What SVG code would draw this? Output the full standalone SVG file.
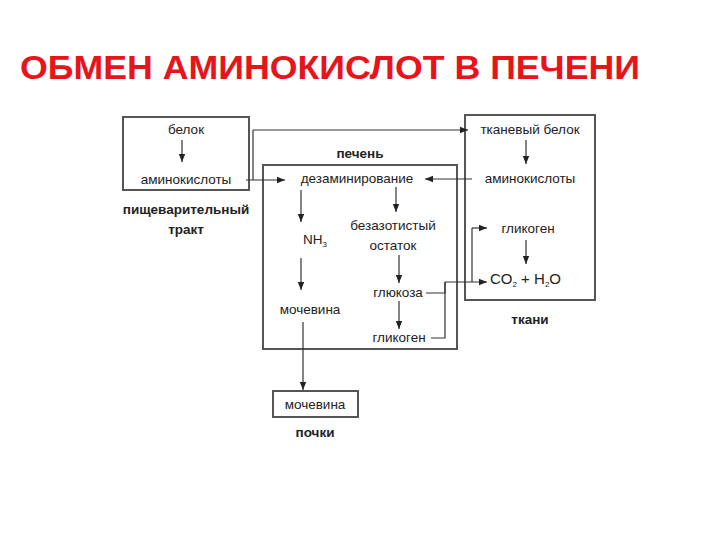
<svg xmlns="http://www.w3.org/2000/svg" width="720" height="540" viewBox="0 0 720 540">
<defs><marker id="a" viewBox="0 0 10 10" refX="10" refY="5" markerWidth="7" markerHeight="7" orient="auto"><path d="M0,1 L10,5 L0,9 z" fill="#222"/></marker></defs>
<style>
.b{fill:none;stroke:#555;stroke-width:2}
.l{fill:none;stroke:#333;stroke-width:1.2;marker-end:url(#a)}
.n{fill:none;stroke:#333;stroke-width:1.2}
text{font-family:"Liberation Sans",Arial,sans-serif;font-size:13.5px;fill:#222}
.h{font-weight:bold}
</style>
<rect width="720" height="540" fill="#fff"/>
<text x="20" y="79" textLength="620" lengthAdjust="spacingAndGlyphs" style="font-size:34px;font-weight:bold;fill:#e8141b">ОБМЕН АМИНОКИСЛОТ В ПЕЧЕНИ</text>
<g id="digest"><rect class="b" x="123" y="117" width="126" height="73"/><text x="186" y="134" text-anchor="middle">белок</text><text x="186" y="184" text-anchor="middle">аминокислоты</text><text x="186" y="214" text-anchor="middle" class="h">пищеварительный</text><text x="186" y="234" text-anchor="middle" class="h">тракт</text></g>
<g id="liver"><rect class="b" x="263" y="165" width="194" height="184"/><text x="360" y="158" text-anchor="middle" class="h">печень</text><text x="357" y="183" text-anchor="middle">дезаминирование</text><text x="303" y="244">NH<tspan dy="3" style="font-size:8px">3</tspan></text><text x="393" y="230" text-anchor="middle">безазотистый</text><text x="393" y="250" text-anchor="middle">остаток</text><text x="310" y="314" text-anchor="middle">мочевина</text><text x="398" y="297" text-anchor="middle">глюкоза</text><text x="399" y="342" text-anchor="middle">гликоген</text></g>
<g id="tissue"><rect class="b" x="465" y="115" width="130" height="185"/><text x="530" y="134" text-anchor="middle">тканевый белок</text><text x="530" y="183" text-anchor="middle">аминокислоты</text><text x="528" y="233" text-anchor="middle">гликоген</text><text x="490" y="284" style="font-size:15px">CO<tspan dy="3" style="font-size:8px">2</tspan><tspan dy="-3"> + H</tspan><tspan dy="3" style="font-size:8px">2</tspan><tspan dy="-3">O</tspan></text><text x="530" y="324" text-anchor="middle" class="h">ткани</text></g>
<g id="kidney"><rect class="b" x="273" y="391" width="85" height="26"/><text x="315" y="409" text-anchor="middle">мочевина</text><text x="315" y="437" text-anchor="middle" class="h">почки</text></g>
<g id="connectors">
<path class="l" d="M182,140 V162"/>
<path class="l" d="M246,180 H285"/>
<path class="n" d="M253,180 V130"/><path class="l" d="M253,130 H468"/>
<path class="l" d="M472,179 H425"/>
<path class="l" d="M526,140 V164"/>
<path class="l" d="M301,190 V222"/>
<path class="l" d="M396,187 V212"/>
<path class="l" d="M301,258 V290"/>
<path class="l" d="M399,255 V283"/>
<path class="l" d="M399,301 V329"/>
<path class="l" d="M526,240 V264"/>
<path class="n" d="M426,293 H445 V282"/><path class="n" d="M431,338 H445 V282"/>
<path class="l" d="M445,282 H487"/>
<path class="n" d="M472,282 V228"/><path class="l" d="M472,228 H487"/>
<path class="l" d="M303,322 V390"/>
</g>
</svg>
